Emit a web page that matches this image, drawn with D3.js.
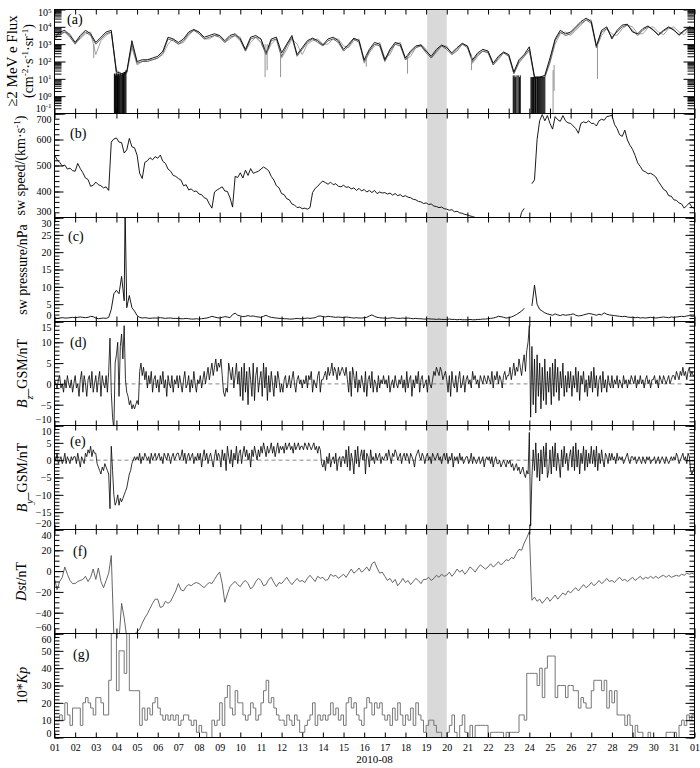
<!DOCTYPE html>
<html>
<head>
<meta charset="utf-8">
<script src="https://cdn.jsdelivr.net/npm/d3@7"></script>
<style>
  body { margin: 0; background: #fff; }
  svg { display: block; }
  text { font-family: "Liberation Serif", "Times New Roman", serif; fill: #000; }
  .tick text { font-size: 10px; }
</style>
</head>
<body>
<svg></svg>
<script>
// ---- values (August 2010, day of month) ----
// (a) >=2 MeV electron flux, log10, every 6 h from day 1.0
const fluxBlack = [
  3.4,3.7,3.8,3.5, 3.1,3.5,3.8,3.6, 3.1,3.4,3.7,3.8, 1.4,1.3,1.4,3.2,
  2.0,2.1,2.1,2.2, 2.3,2.6,3.4,3.3, 3.1,3.3,3.7,3.85, 3.7,3.4,3.5,3.6,
  3.5,3.2,3.5,3.6, 3.3,2.7,3.4,3.5, 3.3,2.5,3.3,3.4, 2.5,3.0,3.5,2.4,
  2.8,3.2,3.35,3.2, 2.95,3.3,3.4,3.2, 2.7,3.0,3.35,3.2, 2.1,2.7,3.1,3.0,
  2.1,2.7,3.1,3.0, 2.2,2.6,2.9,2.95, 2.6,2.3,2.7,2.95, 2.8,2.5,2.8,3.05,
  2.9,2.1,2.5,2.7, 2.6,1.9,2.3,2.55, 2.4,1.4,2.1,2.4, 2.85,1.1,1.1,1.2,
  2.2,3.3,3.8,3.6, 3.7,4.0,4.3,4.5, 4.3,2.9,3.8,4.0, 3.3,3.8,4.1,4.15,
  3.7,3.6,3.9,4.05, 3.8,3.55,3.8,4.0, 3.8,3.55,3.8,4.0, 3.9
];
const fluxDark = [
  3.3,3.6,3.7,3.4, 3.0,3.4,3.7,3.5, 3.0,3.3,3.6,3.7, 1.3,1.2,1.4,3.0,
  1.9,2.0,2.0,2.1, 2.2,2.5,3.3,3.2, 3.0,3.2,3.6,3.8, 3.6,3.3,3.4,3.5,
  3.4,3.1,3.4,3.5, 3.2,2.6,3.3,3.4, 3.1,2.4,3.2,3.3, 2.3,2.9,3.4,2.3,
  2.7,3.1,3.3,3.1, 2.9,3.2,3.3,3.1, 2.6,2.9,3.3,3.1, 2.0,2.6,3.0,2.9,
  2.0,2.6,3.0,2.9, 2.1,2.5,2.8,2.9, 2.5,2.2,2.6,2.9, 2.7,2.4,2.7,3.0,
  2.8,2.0,2.4,2.6, 2.5,1.8,2.2,2.5, 2.3,1.3,2.0,2.3, 2.7,1.1,1.1,1.1,
  2.0,3.2,3.7,3.5, 3.6,3.9,4.2,4.4, 4.2,2.8,3.7,3.9, 3.4,3.7,4.0,4.1,
  3.8,3.5,3.8,4.0, 3.85,3.5,3.75,3.95, 3.85,3.5,3.75,3.95, 3.85
];
const fluxLight = [
  3.3,3.5,3.7,3.6, 3.1,3.3,3.6,3.7, 2.4,3.2,3.5,3.7, 1.5,1.3,1.3,2.8,
  1.8,2.0,2.1,2.1, 2.2,2.4,3.0,3.3, 3.0,3.1,3.5,3.8, 3.7,3.3,3.3,3.5,
  3.5,3.1,3.3,3.5, 3.4,2.6,3.1,3.4, 3.3,2.4,3.0,3.3, 2.2,2.7,3.3,3.0,
  2.4,3.0,3.2,3.3, 3.0,3.0,3.3,3.3, 2.9,2.8,3.2,3.3, 1.9,2.5,2.9,3.1,
  2.2,2.4,3.0,3.1, 2.1,2.3,2.8,3.0, 2.7,2.2,2.5,2.9, 2.9,2.4,2.6,3.0,
  2.9,1.9,2.3,2.6, 2.6,1.8,2.1,2.5, 2.4,1.3,1.9,2.3, 2.6,1.0,1.1,1.1,
  1.9,3.0,3.6,3.7, 3.5,3.8,4.1,4.4, 4.4,2.8,3.5,3.9, 3.6,3.5,3.9,4.1,
  4.0,3.6,3.6,3.95, 4.0,3.7,3.55,3.9, 4.0,3.7,3.55,3.9, 3.95
];
// short dips: [day, from log10, to log10]
const fluxDips = [
  [2.9,3.0,2.2],[11.2,3.0,1.1],[11.3,3.0,1.5],[11.95,2.6,1.1],[16.1,2.4,1.7],
  [18.1,2.4,1.3],[21.2,2.4,1.5],[25.15,1.5,-1.5],[25.2,1.8,0.3],[27.3,3.0,1.0]
];
// dropouts to the bottom of the panel: [day, from log10]
const fluxDrops = [
  [3.90,1.3],[3.93,1.3],[3.96,1.2],[3.99,1.3],[4.02,1.3],[4.05,1.2],[4.08,1.3],[4.11,1.3],
  [4.14,1.2],[4.18,1.3],[4.22,1.3],[4.26,1.2],[4.30,1.3],[4.34,1.3],[4.38,1.4],[4.42,1.4],
  [4.46,1.5],[23.22,1.2],[23.26,1.1],[23.30,1.2],[23.34,1.1],[23.40,1.2],[23.46,1.2],
  [23.52,1.1],[23.56,1.2],[24.08,1.1],[24.12,1.1],[24.16,1.1],[24.20,1.1],[24.26,1.1],
  [24.30,1.1],[24.36,1.1],[24.40,1.1],[24.45,1.1],[24.50,1.1],[24.55,1.1],[24.60,1.1],
  [24.65,1.1],[24.70,1.1],[24.75,1.1]
];

// (b), (c), (f): every 3 h from day 1.0
const swSpeed = [
  540,522,512,498,502,486,490,480, 478,508,488,472,452,446,420,424,
  436,426,422,414,418,404,590,602, 606,590,588,548,560,604,572,568,
  540,470,450,512,518,530,522,534, 528,540,516,508,486,478,462,458,
  450,444,422,426,406,410,400,402, 390,388,376,372,352,336,398,406,
  412,418,402,400,376,340,458,454, 472,452,482,462,488,470,474,478,
  486,494,488,480,458,444,422,414, 392,388,372,368,352,348,338,340,
  334,336,332,338,396,412,420,432, 440,434,428,436,426,430,420,418,
  424,416,418,410,414,404,412,402, 408,398,404,396,404,392,398,394,
  396,390,394,386,392,384,388,380, 384,378,376,370,368,362,360,354,
  356,350,352,344,342,338,340,334, 332,328,330,322,324,318,316,312,
  310,306,304,300,298,294,292,290, 288,285,282,280,278,276,275,275,
  275,275,275,275,280,320,335,null, null,430,445,600,672,696,672,692,
  662,640,688,676,670,692,672,664, 662,652,642,624,662,668,664,672,
  662,662,652,672,678,674,688,690, 694,658,642,618,612,636,598,578,
  562,538,510,496,480,476,468,470, 464,456,438,424,408,402,384,382,
  368,366,356,352,336,346,356,340, 334
];
const swPressure = [
  1.0,0.9,1.0,1.1,1.0,1.0,1.1,1.2, 1.1,1.2,1.3,1.2,1.1,1.2,1.5,1.4,
  1.0,0.8,0.9,1.0,0.9,1.2,3.5,8.0, 9.0,8.0,13.0,6.0,4.0,7.5,4.0,3.0,
  1.7,1.2,1.0,1.1,1.0,0.9,1.0,1.0, 1.0,1.1,1.0,0.9,1.0,1.0,0.9,0.9,
  0.9,0.8,0.8,0.9,0.8,0.7,0.7,0.8, 0.7,0.8,0.9,1.0,1.2,1.5,1.3,1.1,
  1.0,1.2,1.4,1.3,1.1,2.0,2.4,1.8, 1.6,1.4,1.5,1.7,1.5,1.6,1.4,1.3,
  1.2,1.5,1.8,1.4,1.2,1.1,1.0,0.9, 0.9,0.8,0.8,0.7,0.7,0.8,0.9,0.8,
  0.8,0.9,1.0,0.9,1.0,1.1,1.5,1.6, 1.4,1.3,1.5,1.4,1.3,1.2,1.3,1.2,
  1.1,1.3,1.2,1.1,1.0,1.1,1.0,1.0, 1.1,1.2,1.6,1.9,1.5,1.2,1.1,1.0,
  1.0,0.9,1.0,1.1,1.0,0.9,0.9,1.0, 0.9,1.0,0.9,0.8,0.9,0.8,0.8,0.7,
  0.7,0.8,0.7,0.7,0.6,0.7,0.6,0.6, 0.6,0.7,0.6,0.6,0.5,0.6,0.5,0.5,
  0.5,0.6,0.5,0.5,0.6,0.6,0.7,0.7, 0.8,0.9,1.0,1.2,1.5,1.4,1.2,1.0,
  1.1,1.3,1.6,2.0,2.5,3.0,3.8,null, null,4.5,10.5,5.0,3.5,3.0,2.5,2.2,
  2.0,1.8,2.2,1.9,1.7,2.0,1.8,1.9, 2.0,2.2,1.8,1.6,1.7,1.9,2.1,2.3,
  2.2,2.0,1.8,2.1,1.9,2.5,2.1,1.9, 1.8,1.7,1.6,1.5,1.4,1.5,1.3,1.2,
  1.2,1.1,1.2,1.0,1.1,1.0,1.1,1.2, 1.1,1.0,1.1,1.2,1.3,1.2,1.1,1.3,
  1.2,1.3,1.4,1.5,1.4,1.6,1.7,1.5, 1.6
];
const pressureSpikes = [[4.42, 32]];

// (d), (e): every 1.5 h from day 1.0
const bzGsm = [
  1,0,-1,1,2,-1,0,-2,1,-1,2,0,-1,1,-2,0,
  2,-1,0,-3,1,3,-2,2,0,-3,1,2,-1,3,-2,0,
  2,-2,1,3,-3,2,0,-1,2,-2,3,11,-2,-8,-11,5,
  7,10,-3,9,12,6,14,1,-2,-3,-5,-4,-6,-5,-6,-5,
  -4,-5,3,5,2,4,1,3,-1,2,0,3,-2,1,2,-1,
  1,-2,2,0,3,-1,1,-3,2,0,-1,2,-2,1,0,2,
  -1,2,0,-2,1,3,-1,0,2,-2,1,-1,3,0,-2,1,
  0,2,-1,1,3,0,2,4,1,3,5,2,4,6,3,5,
  4,6,2,-2,-3,-1,-2,5,3,1,4,-1,2,5,0,3,
  -3,4,-4,5,-2,3,-5,4,1,-3,5,-4,2,4,-2,1,
  3,-3,5,-1,4,-4,2,-2,3,0,-3,2,-1,3,1,-2,
  0,-2,1,2,-1,0,2,-1,1,3,0,-2,1,2,0,1,
  -1,1,0,2,-1,2,1,3,-2,1,0,-1,2,3,-2,1,
  1,2,3,1,4,2,3,5,2,4,3,1,4,2,3,4,
  3,2,4,1,-2,3,-3,4,2,-1,3,-2,1,-1,2,0,
  -2,3,-3,1,2,-1,3,-2,1,0,-2,2,-1,1,0,2,
  0,1,-1,2,-2,0,1,-1,2,0,-1,1,0,2,-1,1,
  -2,3,-1,1,2,-3,1,-1,2,0,3,-2,1,2,-1,0,
  1,-2,2,0,-1,1,3,2,4,3,2,4,3,1,2,3,
  1,-2,2,-3,3,0,-1,2,-2,1,3,-1,0,2,-2,1,
  2,0,1,-1,3,1,2,0,1,-1,2,1,0,2,1,0,
  2,1,0,3,-1,2,1,3,0,2,1,-1,2,3,1,2,
  2,4,1,3,5,2,4,3,6,4,2,5,7,3,8,10,
  14,-8,9,-5,6,-7,7,-3,5,-6,4,-4,6,-5,3,-2,
  4,-5,5,-3,6,-2,4,-4,3,-1,5,-3,2,-2,3,-1,
  3,-3,2,-1,4,-2,3,-4,2,0,3,-2,1,-3,2,-1,
  3,-2,4,-1,2,-3,1,2,-2,3,-1,1,-2,2,0,-1,
  2,-1,1,0,2,-1,1,0,-1,2,0,1,-1,1,0,2,
  1,0,2,-1,1,0,2,0,1,-1,1,2,0,1,-1,1,
  1,2,0,1,-1,2,1,0,2,1,0,1,2,0,1,2,
  2,1,3,2,1,3,2,4,2,3,1,3,4,2,3,2,
  2
];
const byGsm = [
  1,0,2,-1,0,1,-1,0,2,-1,1,0,-1,1,0,1,
  1,-1,2,0,-2,1,0,-1,2,1,3,2,4,1,3,2,
  2,-1,-2,-3,-4,-2,-3,-1,-2,-3,-4,-14,4,-3,-10,-13,
  -12,-10,-13,-11,-12,-11,-10,-9,-8,-6,-4,-3,-1,0,1,0,
  1,0,2,-1,1,0,2,1,0,1,-1,2,0,1,2,0,
  1,2,0,1,-1,2,1,0,2,1,-1,1,2,0,1,2,
  2,0,1,3,0,2,-1,1,2,0,1,2,-1,1,0,2,
  0,2,-2,1,3,0,2,-1,1,2,0,-2,1,3,0,2,
  1,-2,3,0,2,-3,4,1,-1,3,-2,2,0,4,-1,2,
  3,-1,2,4,1,3,0,2,-2,3,1,4,2,0,3,1,
  4,2,5,3,1,4,2,3,5,2,4,1,3,5,2,4,
  3,4,2,5,3,4,5,3,4,2,5,3,4,5,3,4,
  4,3,5,4,3,5,4,3,4,5,3,4,2,4,3,-1,
  -2,0,-3,1,-1,2,-2,0,1,-1,2,-3,0,1,-2,1,
  1,-1,3,-2,4,-3,2,0,-4,3,-1,4,-2,1,3,0,
  3,-4,2,1,-2,3,0,1,-1,2,0,1,2,-1,1,0,
  1,2,0,3,1,-1,2,1,3,2,0,1,2,-1,1,2,
  0,2,1,-1,2,1,0,-2,1,2,3,1,0,2,1,-1,
  1,2,0,1,-1,2,1,0,1,2,0,1,-1,1,2,0,
  2,-1,1,0,2,-2,1,0,1,-1,2,0,1,-1,0,1,
  1,-1,0,2,-1,1,0,-1,0,1,-1,0,1,-2,0,1,
  0,1,-1,1,-2,0,1,-1,-1,0,-2,-1,0,-1,-2,0,
  -1,0,-2,-1,-3,-2,-1,-3,-2,-4,-3,-2,-4,-5,-3,-4,
  8,-19,-5,3,-3,5,-5,2,-6,3,-4,4,-2,5,-5,-3,
  3,-4,4,-2,5,-3,2,-1,-5,3,-2,4,-1,2,-3,1,
  3,-2,4,-3,5,-2,3,-4,2,-1,4,-3,3,-2,2,-1,
  4,-1,3,-2,4,-3,2,-1,3,0,-2,2,1,-1,2,0,
  2,0,1,-1,2,0,1,0,1,-1,0,1,2,0,-1,1,
  1,0,1,-1,0,1,0,-1,1,0,-1,1,0,1,-1,0,
  0,1,-1,0,1,-1,0,1,0,-1,1,0,-1,0,1,0,
  1,0,2,1,-1,0,1,2,0,1,-1,2,1,-3,-4,-3,
  -2
];
const dst = [
  -7,-18,-10,-6,4,-3,-9,-12, -12,-10,-9,-8,-5,-10,-6,2, -8,3,-10,-16,-9,-2,15,-62,
  -72,-66,-31,-45,-64,-70,-66,-61, -58,-56,-50,-45,-41,-36,-31,-27, -27,-35,-34,-29,-31,-29,-24,-19,
  -12,-18,-19,-15,-13,-14,-12,-11, -12,-14,-16,-13,-11,-12,-8,-4, -1,-12,-30,-22,-15,-12,-10,-13,
  -15,-11,-9,-12,-17,-15,-10,-7, -9,-14,-13,-8,-6,-11,-15,-11, -12,-9,-6,-10,-13,-10,-7,-10,
  -9,-11,-7,-4,-7,-10,-5,-7, -6,-9,-8,-3,-5,-4,-7,-5, -3,-6,-2,2,-2,0,3,-1,
  1,4,0,7,9,3,-2,-1, -5,-9,-7,-11,-8,-14,-11,-7, -11,-9,-13,-10,-7,-9,-12,-8,
  -8,-6,-9,-7,-4,-6,-3,-5, -4,-1,-5,-2,2,-1,1,-3, 0,4,2,-1,3,6,4,2,
  4,7,4,6,9,6,8,11, 10,13,12,17,21,20,27,32, 38,-28,-25,-29,-27,-31,-28,-25,
  -29,-26,-23,-27,-24,-21,-23,-19, -21,-18,-16,-19,-16,-13,-16,-14, -11,-14,-12,-9,-12,-10,-7,-10,
  -9,-11,-8,-6,-9,-8,-10,-8, -6,-9,-7,-5,-8,-6,-7,-5, -7,-5,-7,-5,-4,-6,-4,-6,
  -5,-4,-5,-3,-4,-2,-3,-2, -3
];
// (g) 10*Kp, one value per 3-h interval
const kp10 = [
  10,10,13,10,20,13,7,17, 17,17,7,20,23,20,17,13, 23,23,20,13,13,33,67,67,
  27,50,50,37,67,27,27,27, 27,7,17,10,17,13,20,23, 17,13,10,13,10,13,10,13,
  7,10,13,13,10,7,10,3, 7,3,3,0,0,10,7,10, 20,7,23,30,17,13,27,20,
  20,13,10,13,20,17,10,13, 20,27,33,20,23,17,13,10, 10,7,13,10,7,13,10,3,
  3,7,10,13,20,7,13,10, 13,10,13,20,13,17,10,13, 7,20,23,17,20,13,10,7,
  17,23,20,13,20,17,20,13, 10,13,7,17,10,20,13,7, 13,10,17,7,20,13,10,3,
  7,10,10,7,3,3,0,0, 3,7,13,3,0,7,13,3, 0,7,0,7,7,7,7,7,
  0,3,3,3,3,3,0,3, 3,3,3,3,13,13,10,37, 37,37,37,30,40,23,40,47,
  47,47,23,30,30,30,23,30, 30,27,27,17,23,20,17,17, 27,33,33,33,27,33,17,27,
  20,27,13,13,13,7,13,7, 0,7,3,3,0,0,3,0, 0,0,0,0,0,3,3,3,
  3,0,7,10,7,13,10,13
];
const eventDays = [19.05, 20.0];
const dayTicks = d3.range(1, 33);

// ---- layout ----
const width = 700, height = 768;
const left = 54.5, right = 694.5, firstTop = 9.5, ph = 104;
const svg = d3.select("svg").attr("width", width).attr("height", height);
const x = d3.scaleLinear().domain([1, 32]).range([left, right]);
const panelTop = i => firstTop + i * ph;

const series = (vals, perDay) => vals.map((v, i) => ({ t: 1 + i / perDay, v }));

// shaded interval behind everything
svg.append("rect")
  .attr("x", x(eventDays[0])).attr("y", panelTop(0))
  .attr("width", x(eventDays[1]) - x(eventDays[0])).attr("height", ph * 7)
  .attr("fill", "#d9d9d9");

const makePanel = (i, y, letter, lx, ly) => {
  const g = svg.append("g");
  const id = "clip" + i;
  svg.append("clipPath").attr("id", id).append("rect")
    .attr("x", left).attr("y", panelTop(i)).attr("width", right - left).attr("height", ph);
  const plot = g.append("g").attr("clip-path", `url(#${id})`);
  g.append("text").attr("x", lx).attr("y", panelTop(i) + ly)
    .attr("font-size", 14).text(letter);
  return { g, plot, y };
};

const drawLine = (p, data, color, w, curve) => {
  p.plot.append("path")
    .datum(data)
    .attr("fill", "none").attr("stroke", color).attr("stroke-width", w)
    .attr("stroke-linejoin", "round")
    .attr("d", d3.line().defined(d => d.v !== null)
      .curve(curve || d3.curveLinear)
      .x(d => x(d.t)).y(d => p.y(d.v)));
};

// edge labels are pulled inside the frame (top down, bottom up)
const axes = (p, i, majors, minors, fmt, majLen, minLen, topDy = 8.6, botDy = -2.6) => {
  const g = p.g;
  const ax = g.append("g").attr("transform", `translate(${left},0)`)
    .call(d3.axisLeft(p.y).tickValues(majors).tickSize(-majLen).tickPadding(3).tickFormat(fmt));
  ax.selectAll(".tick text").attr("dy", (d, k) =>
    k === 0 ? botDy : k === majors.length - 1 ? topDy : 3.3);
  g.append("g").attr("transform", `translate(${left},0)`)
    .call(d3.axisLeft(p.y).tickValues(minors).tickSize(-minLen).tickFormat(""));
  g.append("g").attr("transform", `translate(${right},0)`)
    .call(d3.axisRight(p.y).tickValues(majors).tickSize(-majLen).tickFormat(""));
  g.append("g").attr("transform", `translate(${right},0)`)
    .call(d3.axisRight(p.y).tickValues(minors).tickSize(-minLen).tickFormat(""));
  g.append("g").attr("transform", `translate(0,${panelTop(i)})`)
    .call(d3.axisTop(x).tickValues(dayTicks).tickSize(-5).tickFormat(""));
  g.append("g").attr("transform", `translate(0,${panelTop(i) + ph})`)
    .call(d3.axisBottom(x).tickValues(dayTicks).tickSize(-5).tickPadding(6)
      .tickFormat(d => i === 6 ? (d === 32 ? "01" : String(d).padStart(2, "0")) : ""));
  g.selectAll(".domain").remove();
  g.selectAll(".tick line").attr("stroke", "#000");
  g.append("rect").attr("x", left).attr("y", panelTop(i))
    .attr("width", right - left).attr("height", ph)
    .attr("fill", "none").attr("stroke", "#000");
  return ax;
};

const yTitle = (cx, cy, parts, size) => {
  const t = svg.append("text")
    .attr("transform", `translate(${cx},${cy}) rotate(-90)`)
    .attr("text-anchor", "middle").attr("font-size", size || 14);
  parts.forEach(([s, style]) => {
    const sp = t.append("tspan").text(s);
    if (style === "i") sp.attr("font-style", "italic");
    if (style === "sup") sp.attr("baseline-shift", "super").attr("font-size", "65%");
    if (style === "sub") sp.attr("baseline-shift", "sub").attr("font-size", "70%").attr("font-style", "italic");
  });
};

// (a) flux
const pa = makePanel(0, d3.scaleLog().domain([1e-1, 1e5]).range([panelTop(0) + ph, panelTop(0)]), "(a)", 67, 14);
drawLine(pa, series(fluxLight, 4).map(d => ({ t: d.t, v: 10 ** d.v })), "#9a9a9a", 0.9);
drawLine(pa, series(fluxDark, 4).map(d => ({ t: d.t, v: 10 ** d.v })), "#555", 0.9);
drawLine(pa, series(fluxBlack, 4).map(d => ({ t: d.t, v: 10 ** d.v })), "#000", 0.9);
pa.plot.selectAll(".dip").data(fluxDips).enter().append("line")
  .attr("x1", d => x(d[0])).attr("x2", d => x(d[0]))
  .attr("y1", d => pa.y(10 ** d[1])).attr("y2", d => pa.y(10 ** d[2]))
  .attr("stroke", "#888").attr("stroke-width", 0.9);
pa.plot.selectAll(".drop").data(fluxDrops).enter().append("line")
  .attr("x1", d => x(d[0])).attr("x2", d => x(d[0]))
  .attr("y1", d => pa.y(10 ** d[1])).attr("y2", pa.y(1e-2))
  .attr("stroke", "#000").attr("stroke-width", 1);
const decades = d3.range(-1, 6).map(e => 10 ** e);
const logMinors = d3.range(-1, 5).flatMap(e => d3.range(2, 10).map(k => k * 10 ** e));
const axA = axes(pa, 0, decades, logMinors, () => "", 11, 7, 6, -2.5);
axA.selectAll(".tick text").each(function (d) {
  const t = d3.select(this).text(null);
  t.append("tspan").text("10");
  t.append("tspan").attr("dy", "-0.45em").attr("font-size", "7px").text(Math.round(Math.log10(d)));
});
yTitle(17, 61, [["\u22652 MeV e Flux"]], 15);
yTitle(33, 61, [["(cm"], ["-2", "sup"], ["\u00b7s"], ["-1", "sup"], ["\u00b7sr"], ["-1", "sup"], [")"]], 14);

// (b) solar wind speed
const pb = makePanel(1, d3.scaleLinear().domain([300, 700]).range([panelTop(1) + ph, panelTop(1)]), "(b)", 70, 24);
drawLine(pb, series(swSpeed, 8), "#000", 0.9);
axes(pb, 1, d3.range(300, 701, 100), d3.range(300, 701, 20), d3.format("d"), 9, 5, 8.8);
yTitle(25, panelTop(1) + ph / 2, [["sw speed/(km\u00b7s"], ["-1", "sup"], [")"]]);

// (c) dynamic pressure
const pc = makePanel(2, d3.scaleLinear().domain([0, 30]).range([panelTop(2) + ph, panelTop(2)]), "(c)", 68, 23);
const pressure = series(swPressure, 8).concat(pressureSpikes.map(d => ({ t: d[0], v: d[1] })))
  .sort((a, b) => a.t - b.t);
drawLine(pc, pressure, "#000", 0.9);
axes(pc, 2, d3.range(0, 31, 5), d3.range(0, 31, 1), d3.format("d"), 9, 5);
yTitle(27, panelTop(2) + ph / 2, [["sw pressure/nPa"]]);

// (d) Bz
const pd = makePanel(3, d3.scaleLinear().domain([-10, 15]).range([panelTop(3) + ph, panelTop(3)]), "(d)", 70, 25);
pd.plot.append("line").attr("x1", left).attr("x2", right)
  .attr("y1", pd.y(0)).attr("y2", pd.y(0))
  .attr("stroke", "#888").attr("stroke-dasharray", "4,3");
drawLine(pd, series(bzGsm, 16), "#000", 0.8);
axes(pd, 3, d3.range(-10, 16, 5), d3.range(-10, 16, 1), d3.format("d"), 9, 5);
yTitle(27, panelTop(3) + ph / 2, [["B", "i"], ["z", "sub"], ["_GSM/nT"]]);

// (e) By
const pe = makePanel(4, d3.scaleLinear().domain([-20, 10]).range([panelTop(4) + ph, panelTop(4)]), "(e)", 70, 20);
pe.plot.append("line").attr("x1", left).attr("x2", right)
  .attr("y1", pe.y(0)).attr("y2", pe.y(0))
  .attr("stroke", "#888").attr("stroke-dasharray", "4,3");
drawLine(pe, series(byGsm, 16), "#000", 0.8);
axes(pe, 4, d3.range(-20, 11, 5), d3.range(-20, 11, 1), d3.format("d"), 9, 5);
yTitle(27, panelTop(4) + ph / 2, [["B", "i"], ["y", "sub"], ["_GSM/nT"]]);

// (f) Dst
const pf = makePanel(5, d3.scaleLinear().domain([-60, 40]).range([panelTop(5) + ph, panelTop(5)]), "(f)", 73, 26);
drawLine(pf, series(dst, 8), "#555", 0.9);
axes(pf, 5, d3.range(-60, 41, 20), d3.range(-60, 41, 5), d3.format("d"), 9, 5);
yTitle(26, panelTop(5) + ph / 2, [["Dst", "i"], ["/nT"]]);

// (g) Kp
const pg = makePanel(6, d3.scaleLinear().domain([0, 60]).range([panelTop(6) + ph, panelTop(6)]), "(g)", 73, 25);
const kpSteps = series(kp10, 8);
kpSteps.push({ t: 32, v: kp10[kp10.length - 1] });
drawLine(pg, kpSteps, "#777", 1, d3.curveStepAfter);
axes(pg, 6, d3.range(0, 61, 10), d3.range(0, 61, 2), d3.format("d"), 9, 5, 8.6, -1.5);
yTitle(27, panelTop(6) + ph / 2, [["10*"], ["Kp", "i"]]);

svg.append("text").attr("x", (left + right) / 2).attr("y", 763)
  .attr("text-anchor", "middle").attr("font-size", 11).text("2010-08");
</script>
</body>
</html>
